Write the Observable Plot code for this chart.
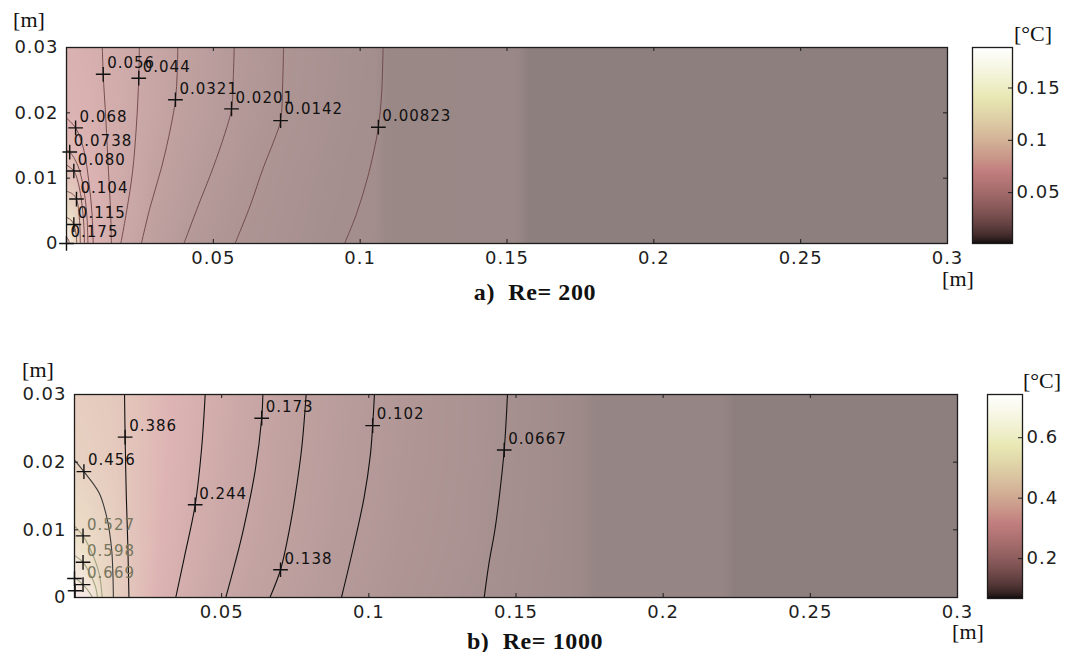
<!DOCTYPE html>
<html>
<head>
<meta charset="utf-8">
<script src="https://cdn.jsdelivr.net/npm/d3@7"></script>
<script src="https://cdn.jsdelivr.net/npm/@observablehq/plot@0.6"></script>
<style>
  html, body { margin: 0; padding: 0; background: #fff; }
  #fig { position: relative; width: 1066px; height: 652px; overflow: hidden; background: #fff; }
  .abs { position: absolute; }
  .unit { position: absolute; font-family: "Liberation Serif", "DejaVu Serif", serif; font-size: 22px; color: #111; transform: translate(-50%, -50%); white-space: pre; }
  .cap { position: absolute; font-family: "Liberation Serif", "DejaVu Serif", serif; font-weight: bold; font-size: 24px; letter-spacing: 0.6px; color: #111; transform: translate(-50%, -50%); white-space: pre; }
</style>
</head>
<body>
<div id="fig">
  <div id="mainA" class="abs" style="left:0;top:0"></div>
  <div id="cbA" class="abs" style="left:950px;top:0"></div>
  <div id="mainB" class="abs" style="left:0;top:348px"></div>
  <div id="cbB" class="abs" style="left:960px;top:348px"></div>
  <div class="unit" style="left:29px;top:20px">[m]</div>
  <div class="unit" style="left:958px;top:279px">[m]</div>
  <div class="unit" style="left:1033px;top:34px">[°C]</div>
  <div class="cap" style="left:535px;top:292px">a)  Re= 200</div>
  <div class="unit" style="left:38px;top:370px">[m]</div>
  <div class="unit" style="left:968px;top:632px">[m]</div>
  <div class="unit" style="left:1042px;top:381px">[°C]</div>
  <div class="cap" style="left:535px;top:641px">b)  Re= 1000</div>
</div>
<script>
// ---------- axes ----------
const X_DOMAIN = [0, 0.3];
const Y_DOMAIN = [0, 0.03];
const X_TICKS = [0.05, 0.1, 0.15, 0.2, 0.25, 0.3];
const Y_TICKS = [0, 0.01, 0.02, 0.03];

// ---------- colorbars ----------
const CB_A_RANGE = [0.0014, 0.1887];
const CB_A_TICKS = [0.05, 0.1, 0.15];
const CB_B_RANGE = [0.068, 0.743];
const CB_B_TICKS = [0.2, 0.4, 0.6];

// ---------- panel a (Re = 200): temperature field ----------
const A_X = [0, 0.003, 0.006, 0.01, 0.015, 0.02, 0.03, 0.04, 0.05, 0.06, 0.075, 0.09, 0.105, 0.109, 0.153, 0.157, 0.3];
const A_Y = [0, 0.005, 0.01, 0.02, 0.03];
const A_T_y000 = [0.188, 0.120, 0.080, 0.065, 0.057, 0.041, 0.028, 0.020, 0.0165, 0.0137, 0.0110, 0.0088, 0.0075, 0.0045, 0.0043, 0.0025, 0.0025];
const A_T_y005 = [0.130, 0.115, 0.078, 0.066, 0.056, 0.046, 0.030, 0.023, 0.0180, 0.0145, 0.0115, 0.0092, 0.0079, 0.0045, 0.0043, 0.0025, 0.0025];
const A_T_y010 = [0.090, 0.085, 0.072, 0.064, 0.055, 0.047, 0.033, 0.025, 0.0190, 0.0158, 0.0120, 0.0095, 0.0081, 0.0045, 0.0043, 0.0025, 0.0025];
const A_T_y020 = [0.069, 0.067, 0.064, 0.060, 0.054, 0.049, 0.038, 0.029, 0.0230, 0.0180, 0.0135, 0.0105, 0.0084, 0.0045, 0.0043, 0.0025, 0.0025];
const A_T_y030 = [0.063, 0.062, 0.060, 0.058, 0.053, 0.048, 0.039, 0.031, 0.0240, 0.0190, 0.0140, 0.0110, 0.0086, 0.0045, 0.0043, 0.0025, 0.0025];

// contour lines of panel a: [x, y] points along each isotherm
const A_c00823 = [[0.0947, 0], [0.0988, 0.0046], [0.1023, 0.0097], [0.1047, 0.0142], [0.1062, 0.0178], [0.1073, 0.0229], [0.1078, 0.03]];
const A_c0142  = [[0.0574, 0], [0.0624, 0.0056], [0.0671, 0.0117], [0.0706, 0.0157], [0.0729, 0.0188], [0.0736, 0.0244], [0.0739, 0.03]];
const A_c0201  = [[0.0400, 0], [0.0447, 0.0056], [0.0500, 0.0117], [0.0539, 0.0168], [0.0562, 0.0206], [0.0568, 0.0254], [0.0571, 0.03]];
const A_c0321  = [[0.0255, 0], [0.0285, 0.0056], [0.0324, 0.0117], [0.0355, 0.0178], [0.0371, 0.0220], [0.0377, 0.0260], [0.0379, 0.03]];
const A_c044   = [[0.0185, 0], [0.0205, 0.0050], [0.0225, 0.0110], [0.0238, 0.0180], [0.0246, 0.0253], [0.0248, 0.03]];
const A_c056   = [[0.0153, 0], [0.0150, 0.0050], [0.0143, 0.0110], [0.0134, 0.0190], [0.0125, 0.0259], [0.0122, 0.03]];
const A_c068   = [[0, 0.0192], [0.0031, 0.0177], [0.0058, 0.0145], [0.0076, 0.0095], [0.0087, 0.0045], [0.0091, 0]];
const A_c0738  = [[0, 0.0143], [0.0011, 0.0140], [0.0038, 0.0120], [0.0058, 0.0085], [0.0069, 0.0045], [0.0073, 0]];
const A_c080   = [[0, 0.0120], [0.0025, 0.0111], [0.0044, 0.0085], [0.0055, 0.0050], [0.0060, 0.0020], [0.0061, 0]];
const A_c104   = [[0, 0.0080], [0.0020, 0.0076], [0.0034, 0.0068], [0.0042, 0.0048], [0.0046, 0.0022], [0.0047, 0]];
const A_c115   = [[0, 0.0040], [0.0015, 0.0036], [0.0025, 0.0029], [0.0032, 0.0016], [0.0035, 0]];
const A_c175   = [[0, 0.0009], [0.0005, 0.0007], [0.0008, 0.0004], [0.0009, 0]];
const A_CONTOURS = [["0.00823", A_c00823], ["0.0142", A_c0142], ["0.0201", A_c0201], ["0.0321", A_c0321], ["0.044", A_c044], ["0.056", A_c056], ["0.068", A_c068], ["0.0738", A_c0738], ["0.080", A_c080], ["0.104", A_c104], ["0.115", A_c115], ["0.175", A_c175]];

const A_LABELS = ["0.056", "0.044", "0.0321", "0.0201", "0.0142", "0.00823", "0.068", "0.0738", "0.080", "0.104", "0.115", "0.175"];
const A_LABEL_X = [0.0125, 0.0246, 0.0371, 0.0562, 0.0729, 0.1062, 0.0031, 0.0011, 0.0025, 0.0034, 0.0025, 0];
const A_LABEL_Y = [0.0259, 0.0253, 0.0220, 0.0206, 0.0188, 0.0178, 0.0177, 0.0140, 0.0111, 0.0068, 0.0029, 0];

// ---------- panel b (Re = 1000) ----------
const B_X = [0, 0.003, 0.006, 0.01, 0.015, 0.02, 0.03, 0.04, 0.05, 0.06, 0.075, 0.09, 0.11, 0.13, 0.146, 0.173, 0.177, 0.220, 0.224, 0.3];
const B_Y = [0, 0.005, 0.01, 0.02, 0.03];
const B_T_y000 = [0.740, 0.710, 0.670, 0.510, 0.430, 0.370, 0.280, 0.220, 0.178, 0.152, 0.124, 0.103, 0.085, 0.072, 0.064, 0.050, 0.043, 0.043, 0.040, 0.040];
const B_T_y005 = [0.640, 0.610, 0.550, 0.490, 0.440, 0.375, 0.290, 0.230, 0.190, 0.162, 0.131, 0.107, 0.088, 0.075, 0.065, 0.050, 0.043, 0.043, 0.040, 0.040];
const B_T_y010 = [0.535, 0.520, 0.500, 0.470, 0.420, 0.370, 0.300, 0.240, 0.200, 0.168, 0.136, 0.111, 0.090, 0.077, 0.066, 0.050, 0.043, 0.043, 0.040, 0.040];
const B_T_y020 = [0.457, 0.450, 0.440, 0.425, 0.400, 0.370, 0.310, 0.255, 0.210, 0.176, 0.141, 0.116, 0.093, 0.079, 0.067, 0.050, 0.043, 0.043, 0.040, 0.040];
const B_T_y030 = [0.430, 0.425, 0.420, 0.410, 0.395, 0.370, 0.315, 0.265, 0.222, 0.185, 0.146, 0.120, 0.095, 0.080, 0.068, 0.050, 0.043, 0.043, 0.040, 0.040];

const B_c0667 = [[0.1392, 0], [0.1408, 0.0050], [0.1428, 0.0099], [0.1443, 0.0148], [0.1460, 0.0218], [0.1471, 0.03]];
const B_c102  = [[0.0907, 0], [0.0948, 0.0075], [0.0984, 0.0148], [0.1005, 0.0210], [0.1013, 0.0254], [0.1019, 0.03]];
const B_c138  = [[0.0664, 0], [0.0700, 0.0041], [0.0730, 0.0100], [0.0749, 0.0148], [0.0772, 0.0221], [0.0787, 0.03]];
const B_c173  = [[0.0514, 0], [0.0545, 0.0050], [0.0573, 0.0099], [0.0614, 0.0188], [0.0636, 0.0265], [0.0640, 0.03]];
const B_c244  = [[0.0344, 0], [0.0373, 0.0059], [0.0410, 0.0137], [0.0432, 0.0221], [0.0444, 0.03]];
const B_c386  = [[0.0185, 0], [0.0181, 0.0080], [0.0176, 0.0150], [0.0172, 0.0237], [0.0170, 0.03]];
const B_c456  = [[0, 0.0203], [0.0032, 0.0186], [0.0083, 0.0155], [0.0111, 0.0116], [0.0126, 0.0072], [0.0131, 0.0027], [0.0132, 0]];
const B_c527  = [[0, 0.0106], [0.0029, 0.0091], [0.0060, 0.0065], [0.0084, 0.0035], [0.0094, 0]];
const B_c598  = [[0, 0.0062], [0.0029, 0.0052], [0.0055, 0.0033], [0.0072, 0.0015], [0.0078, 0]];
const B_c669  = [[0, 0.0030], [0.0029, 0.0019], [0.0050, 0.0008], [0.0061, 0]];
const B_CONTOURS = [["0.0667", B_c0667], ["0.102", B_c102], ["0.138", B_c138], ["0.173", B_c173], ["0.244", B_c244], ["0.386", B_c386], ["0.456", B_c456], ["0.527", B_c527], ["0.598", B_c598], ["0.669", B_c669]];

const B_LABELS = ["0.386", "0.456", "0.527", "0.598", "0.669", "0.244", "0.173", "0.138", "0.102", "0.0667", "", ""];
const B_LABEL_X = [0.0172, 0.0032, 0.0029, 0.0029, 0.0029, 0.0410, 0.0636, 0.0700, 0.1013, 0.1460, 0, 0.0002];
const B_LABEL_Y = [0.0237, 0.0186, 0.0091, 0.0052, 0.0019, 0.0137, 0.0265, 0.0041, 0.0254, 0.0218, 0.0028, 0.0010];

// ---------- colour maps (MATLAB "pink") ----------
function pinkRGB(t) {
  t = Math.max(0, Math.min(1, t));
  const hr = Math.min(1, t / 0.375);
  const hg = Math.max(0, Math.min(1, (t - 0.375) / 0.375));
  const hb = Math.max(0, Math.min(1, (t - 0.75) / 0.25));
  return [hr, hg, hb].map(h => 255 * Math.sqrt((2 * t + h) / 3));
}
const rgbStr = (r, g, b) => `rgb(${Math.round(r)},${Math.round(g)},${Math.round(b)})`;
const pinkMap = (t) => { const [r, g, b] = pinkRGB(t); return rgbStr(r, g, b); };
// the field itself is shown washed out (as in the picture)
const shadedMap = (t) => { const [r, g, b] = pinkRGB(t); return rgbStr(0.42 * r + 140, 0.42 * g + 127, 0.42 * b + 126); };

// ---------- helpers ----------
function gridRows(xs, ys, rows) {
  const out = [];
  ys.forEach((y, j) => xs.forEach((x, i) => out.push({x, y, T: rows[j][i]})));
  return out;
}
function lineRows(contours) {
  return contours.flatMap(([level, pts]) => pts.map(([x, y]) => ({level, value: +level, x, y})));
}
function labelRows(texts, xs, ys) {
  return texts.map((text, i) => ({text, value: text === "" ? 0 : +text, x: xs[i], y: ys[i]}));
}

const innerX = X_TICKS.filter(d => d > X_DOMAIN[0] && d < X_DOMAIN[1]);
const innerY = Y_TICKS.filter(d => d > Y_DOMAIN[0] && d < Y_DOMAIN[1]);
const INK = "#1c1c1c";
const SVG_STYLE = "background: transparent; overflow: visible; font-family: 'DejaVu Sans', sans-serif; font-size: 18px; letter-spacing: 1px; color: #1e1e1e;";

function panel({width, height, mt, mb, ml, mr, grid, lines, labels, lineStroke, lineWidth, labelFill}) {
  const fw = width - ml - mr, fh = height - mt - mb;
  return Plot.plot({
    width, height, marginTop: mt, marginBottom: mb, marginLeft: ml, marginRight: mr,
    style: SVG_STYLE,
    x: {domain: X_DOMAIN, label: null},
    y: {domain: Y_DOMAIN, label: null},
    color: {type: "linear", domain: d3.extent(grid, d => d.T), interpolate: shadedMap},
    marks: [
      Plot.raster(grid, {x: "x", y: "y", fill: "T", interpolate: "barycentric",
        x1: X_DOMAIN[0], x2: X_DOMAIN[1], y1: Y_DOMAIN[0], y2: Y_DOMAIN[1]}),
      Plot.line(lines, {x: "x", y: "y", z: "level", stroke: lineStroke, strokeWidth: lineWidth, curve: "catmull-rom"}),
      Plot.frame({stroke: INK, strokeWidth: 1.3}),
      Plot.tickX(innerX, {x: d => d, insetTop: fh - 4, stroke: INK}),
      Plot.tickX(innerX, {x: d => d, insetBottom: fh - 4, stroke: INK}),
      Plot.tickY(innerY, {y: d => d, insetLeft: fw - 4, stroke: INK}),
      Plot.tickY(innerY, {y: d => d, insetRight: fw - 4, stroke: INK}),
      Plot.axisX(X_TICKS, {tickSize: 0, tickPadding: 8, tickFormat: String, label: null}),
      Plot.axisY(Y_TICKS, {tickSize: 0, tickPadding: 8, tickFormat: String, label: null}),
      Plot.dot(labels, {x: "x", y: "y", symbol: "plus", r: 4.8, stroke: "#111", strokeWidth: 1.4}),
      Plot.text(labels, {x: "x", y: "y", text: "text", textAnchor: "start", dx: 4, dy: -11, fontSize: 15, fill: labelFill})
    ]
  });
}

function colorbar({width, height, mt, mb, ml, mr, range, ticks}) {
  const fw = width - ml - mr;
  return Plot.plot({
    width, height, marginTop: mt, marginBottom: mb, marginLeft: ml, marginRight: mr,
    style: SVG_STYLE,
    x: {domain: [0, 1], axis: null},
    y: {domain: range, label: null},
    color: {type: "linear", domain: range, interpolate: pinkMap},
    marks: [
      Plot.raster({fill: (x, y) => y, x1: 0, x2: 1, y1: range[0], y2: range[1]}),
      Plot.frame({stroke: INK, strokeWidth: 1.3}),
      Plot.tickY(ticks, {y: d => d, insetLeft: fw - 4, stroke: INK}),
      Plot.axisY(ticks, {anchor: "right", tickSize: 0, tickPadding: 4, tickFormat: String, label: null})
    ]
  });
}

// ---------- panel a ----------
document.getElementById("mainA").append(panel({
  width: 960, height: 300, mt: 47, mb: 57, ml: 66, mr: 13,
  grid: gridRows(A_X, A_Y, [A_T_y000, A_T_y005, A_T_y010, A_T_y020, A_T_y030]),
  lines: lineRows(A_CONTOURS),
  labels: labelRows(A_LABELS, A_LABEL_X, A_LABEL_Y),
  lineStroke: "#6b4444", lineWidth: 0.9, labelFill: "#111"
}));
document.getElementById("cbA").append(colorbar({
  width: 116, height: 300, mt: 47, mb: 57, ml: 22, mr: 54, range: CB_A_RANGE, ticks: CB_A_TICKS
}));

// ---------- panel b ----------
document.getElementById("mainB").append(panel({
  width: 970, height: 300, mt: 46, mb: 51, ml: 74, mr: 13,
  grid: gridRows(B_X, B_Y, [B_T_y000, B_T_y005, B_T_y010, B_T_y020, B_T_y030]),
  lines: lineRows(B_CONTOURS),
  labels: labelRows(B_LABELS, B_LABEL_X, B_LABEL_Y),
  lineStroke: d => d.value > 0.5 ? "#a3a383" : d.value > 0.4 ? "#3a3a3a" : "#111",
  lineWidth: 1.1,
  labelFill: d => d.value > 0.5 ? "#76765e" : "#111"
}));
document.getElementById("cbB").append(colorbar({
  width: 106, height: 300, mt: 46, mb: 50, ml: 27, mr: 44, range: CB_B_RANGE, ticks: CB_B_TICKS
}));
</script>
</body>
</html>
